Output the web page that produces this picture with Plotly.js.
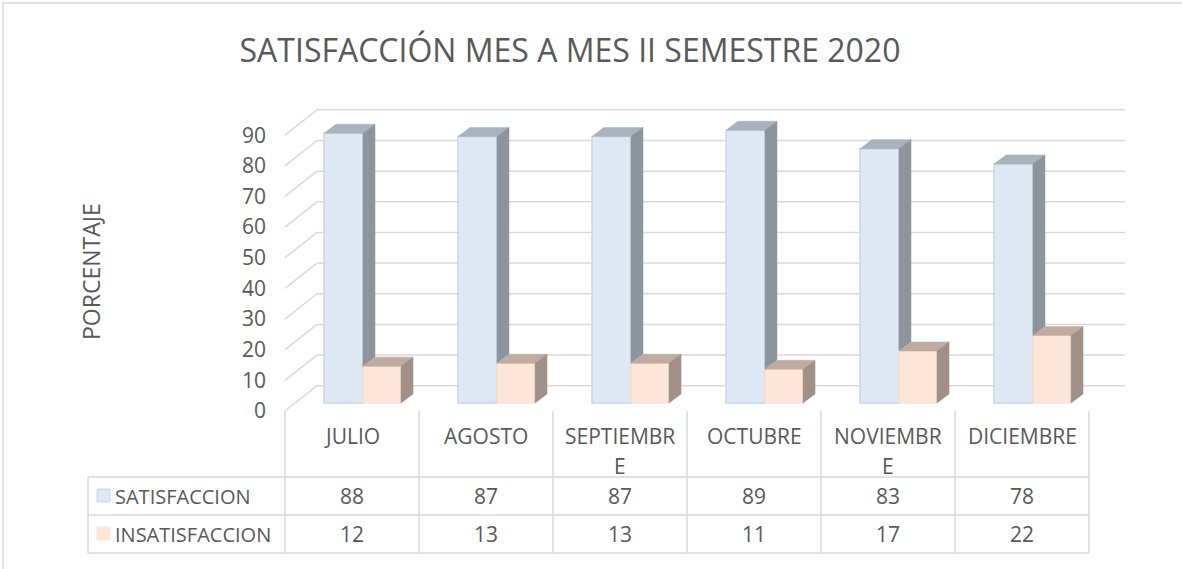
<!DOCTYPE html>
<html>
<head>
<meta charset="utf-8">
<script src="https://cdn.plot.ly/plotly-3.0.1.min.js"></script>
<style>html,body{margin:0;padding:0;background:#fff;}#chart{width:1182px;height:569px;}</style>
</head>
<body>
<div id="chart"></div>
<script>
// ---- data ----
const months = ['JULIO','AGOSTO','SEPTIEMBRE','OCTUBRE','NOVIEMBRE','DICIEMBRE'];
const satisfaccion = [88, 87, 87, 89, 83, 78];
const insatisfaccion = [12, 13, 13, 11, 17, 22];
const seriesNames = ['SATISFACCION', 'INSATISFACCION'];
const yTicks = [0, 10, 20, 30, 40, 50, 60, 70, 80, 90];
const chartTitle = 'SATISFACCIÓN MES A MES II SEMESTRE 2020';
const yTitle = 'PORCENTAJE';

// ---- geometry / style ----
const W = 1182, H = 569;
const M = {l: 285, r: 93, t: 100, b: 158};
const plotW = W - M.l - M.r, plotH = H - M.t - M.b;
const pxPerY = 3.065;
const yMax = plotH / pxPerY;
const nCat = months.length;
const pxPerX = plotW / nCat;
const DX = 32 / pxPerX, DY = 25.3 / pxPerY;     // back wall depth
const BASE = 2.6;                                 // bar floor offset
const bdx = 12 / pxPerX, bdy = 9 / pxPerY;        // bar depth
const satOff = -0.209, satW = 0.291, insOff = 0.082, insW = 0.284;
const TXT = '#595959', GRID = '#D9D9D9';
const FONT = '"Open Sans", "DejaVu Sans", sans-serif';
const TFS = 21; // table font size
const C = {
  satFront: '#DEE8F5', satEdge: '#C9D6E8', satTop: '#A8B3BD', satSide: '#8C959E',
  insFront: '#FDE5D8', insEdge: '#F8DCCB', insTop: '#BFAB9F', insSide: '#A19087'
};

const xp = x => (x + 0.5) / nCat;          // data x -> paper
const yp = y => y / yMax;                   // data y -> paper
const pxX = X => (X - M.l) / plotW;         // pixel -> paper
const pxY = Y => (H - M.b - Y) / plotH;

// wrap a label by measured width (like a spreadsheet cell)
const cv = document.createElement('canvas').getContext('2d');
cv.font = TFS + 'px "Open Sans"';
function wrapLabel(s, maxW) {
  const lines = [];
  let cur = '';
  for (const ch of s) {
    if (cv.measureText(cur + ch).width > maxW && cur) { lines.push(cur); cur = ch; }
    else cur += ch;
  }
  lines.push(cur);
  return lines;
}

// ---- face polygons ----
function polys(builder) {
  const xs = [], ys = [];
  months.forEach((m, i) => {
    builder(i).forEach(p => { xs.push(p[0]); ys.push(p[1]); });
    xs.push(null); ys.push(null);
  });
  return {xs, ys};
}
const satTop = polys(i => {
  const x0 = i + satOff, x1 = x0 + satW, y = BASE + satisfaccion[i];
  return [[x0, y], [x0 + bdx, y + bdy], [x1 + bdx, y + bdy], [x1, y], [x0, y]];
});
const satSide = polys(i => {
  const x1 = i + satOff + satW, y0 = BASE + insatisfaccion[i], y1 = BASE + satisfaccion[i];
  return [[x1, y0], [x1 + bdx, y0 + bdy], [x1 + bdx, y1 + bdy], [x1, y1], [x1, y0]];
});
const insTop = polys(i => {
  const x0 = i + insOff, x1 = x0 + insW, y = BASE + insatisfaccion[i];
  return [[x0, y], [x0 + bdx, y + bdy], [x1 + bdx, y + bdy], [x1, y], [x0, y]];
});
const insSide = polys(i => {
  const x1 = i + insOff + insW, y1 = BASE + insatisfaccion[i];
  return [[x1, BASE], [x1 + bdx, BASE + bdy], [x1 + bdx, y1 + bdy], [x1, y1], [x1, BASE]];
});
function face(p, color) {
  return {type: 'scatter', mode: 'lines', x: p.xs, y: p.ys, fill: 'toself',
    fillcolor: color, line: {color: color, width: 0.5}, hoverinfo: 'skip',
    showlegend: false, cliponaxis: false, connectgaps: false};
}
const xIdx = months.map((m, i) => i);

const traces = [
  {type: 'bar', x: xIdx, y: satisfaccion, base: BASE, offset: satOff, width: satW,
   marker: {color: C.satFront, line: {color: C.satEdge, width: 1.5}}, name: seriesNames[0], hoverinfo: 'skip'},
  face(satTop, C.satTop),
  face(satSide, C.satSide),
  {type: 'bar', x: xIdx, y: insatisfaccion, base: BASE, offset: insOff, width: insW,
   marker: {color: C.insFront, line: {color: C.insEdge, width: 1}}, name: seriesNames[1], hoverinfo: 'skip'},
  face(insTop, C.insTop),
  face(insSide, C.insSide)
];

// ---- shapes: walls, table, frame ----
const shapes = [];
const line = (x0, y0, x1, y1, color, width, layer) => ({type: 'line', xref: 'paper', yref: 'paper',
  x0, y0, x1, y1, line: {color: color || GRID, width: width || 1.5}, layer: layer || 'below'});
yTicks.forEach(v => {
  shapes.push(line(xp(-0.5 + DX), yp(v + DY), xp(nCat - 0.5 + DX + 0.03), yp(v + DY)));
  shapes.push(line(xp(-0.5), yp(v), xp(-0.5 + DX), yp(v + DY)));
});
// table
const rowY = [411, 477, 515, 553];
for (let i = 0; i <= nCat; i++) {
  shapes.push(line(xp(i - 0.5), pxY(rowY[0]), xp(i - 0.5), pxY(rowY[3]), GRID, 1.5, 'above'));
}
[1, 2, 3].forEach(k => shapes.push(line(pxX(88), pxY(rowY[k]), xp(nCat - 0.5), pxY(rowY[k]), GRID, 1.5, 'above')));
shapes.push(line(pxX(88), pxY(rowY[1]), pxX(88), pxY(rowY[3]), GRID, 1.5, 'above'));
// legend keys
[[C.satFront, C.satEdge, 496], [C.insFront, C.insFront, 534]].forEach(k => {
  shapes.push({type: 'rect', xref: 'paper', yref: 'paper', x0: pxX(97), x1: pxX(110),
    y0: pxY(k[2] - 7), y1: pxY(k[2] + 6), fillcolor: k[0], line: {color: k[1], width: 1}, layer: 'above'});
});
// chart frame
shapes.push({type: 'rect', xref: 'paper', yref: 'paper', x0: pxX(3), x1: pxX(W + 5), y0: pxY(3), y1: pxY(H + 5),
  line: {color: GRID, width: 1.5}, fillcolor: 'rgba(0,0,0,0)', layer: 'below'});

// ---- annotations: table text, axis title ----
const ann = [];
const font = s => ({family: FONT, size: s, color: TXT});
months.forEach((m, i) => {
  wrapLabel(m, pxPerX - 20).forEach((p, k) => ann.push({xref: 'x', yref: 'paper', x: i, y: pxY(436 + 30 * k), text: p,
    showarrow: false, xanchor: 'center', yanchor: 'middle', font: font(TFS)}));
  ann.push({xref: 'x', yref: 'paper', x: i, y: pxY(496), text: String(satisfaccion[i]), showarrow: false,
    xanchor: 'center', yanchor: 'middle', font: font(TFS)});
  ann.push({xref: 'x', yref: 'paper', x: i, y: pxY(534), text: String(insatisfaccion[i]), showarrow: false,
    xanchor: 'center', yanchor: 'middle', font: font(TFS)});
});
seriesNames.forEach((s, k) => ann.push({xref: 'paper', yref: 'paper', x: pxX(113), y: pxY(k ? 534 : 496), text: s,
  showarrow: false, xanchor: 'left', yanchor: 'middle', font: font(20)}));
ann.push({xref: 'paper', yref: 'paper', x: pxX(91), y: pxY(272), text: yTitle, textangle: -90,
  showarrow: false, xanchor: 'center', yanchor: 'middle', font: font(23)});

const layout = {
  width: W, height: H, margin: M, paper_bgcolor: '#fff', plot_bgcolor: 'rgba(0,0,0,0)',
  showlegend: false, barmode: 'overlay',
  title: {text: chartTitle, x: 570 / W, xanchor: 'center', y: 1 - 51 / H, yanchor: 'middle',
    font: {family: FONT, size: 32, color: TXT}},
  xaxis: {range: [-0.5, nCat - 0.5], visible: false, fixedrange: true},
  yaxis: {range: [0, yMax], tickvals: yTicks, ticktext: yTicks.map(String), showgrid: false, zeroline: false,
    showline: false, ticks: '', ticklabelstandoff: 18, tickfont: font(21), fixedrange: true},
  shapes, annotations: ann
};
Plotly.newPlot('chart', traces, layout, {displayModeBar: false, staticPlot: true});
</script>
</body>
</html>
